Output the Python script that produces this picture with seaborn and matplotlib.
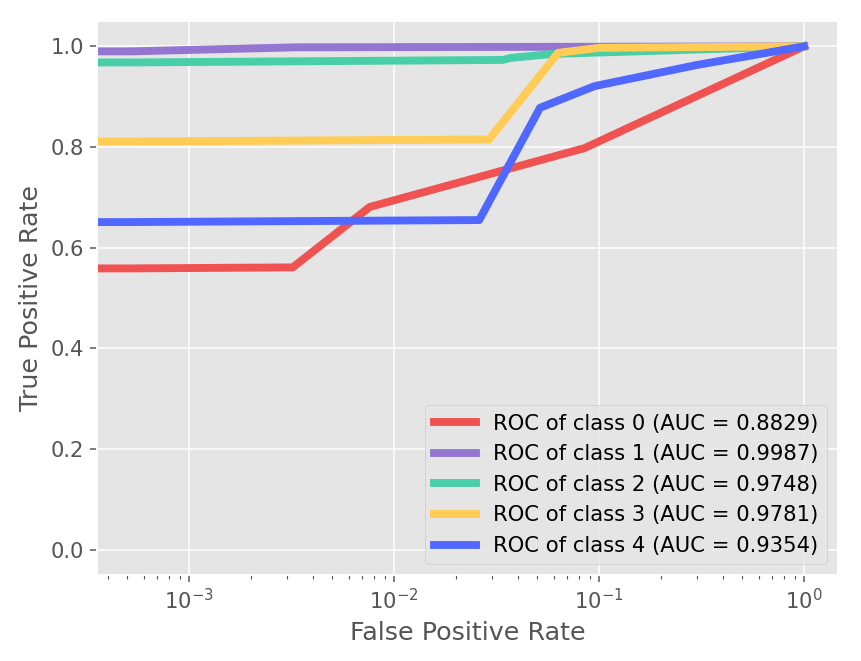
import numpy as np
import pandas as pd
import matplotlib
matplotlib.use('Agg')
import matplotlib.pyplot as plt
import seaborn as sns

plt.style.use('ggplot')
plt.rcParams['font.size'] = 11.3

# ROC points (fpr, tpr) per class
fpr_0 = [0.0, 5.2e-4, 3.2e-3, 7.6e-3, 0.085, 1.0]
tpr_0 = [0.558, 0.559, 0.561, 0.681, 0.798, 1.0]
fpr_1 = [0.0, 5.2e-4, 3.3e-3, 1.0]
tpr_1 = [0.989, 0.990, 0.998, 1.0]
fpr_2 = [0.0, 5.2e-4, 0.034, 0.037, 0.06, 1.0]
tpr_2 = [0.967, 0.968, 0.973, 0.977, 0.985, 1.0]
fpr_3 = [0.0, 5.2e-4, 0.029, 0.063, 0.1, 1.0]
tpr_3 = [0.810, 0.811, 0.815, 0.987, 0.997, 1.0]
fpr_4 = [0.0, 5.2e-4, 0.026, 0.0515, 0.095, 0.3, 1.0]
tpr_4 = [0.650, 0.651, 0.655, 0.878, 0.921, 0.963, 1.0]
auc = [0.8829, 0.9987, 0.9748, 0.9781, 0.9354]
colors = ['#F05252', '#9575D2', '#48CFA8', '#FFCC55', '#5068FF']

curves = [(fpr_0, tpr_0), (fpr_1, tpr_1), (fpr_2, tpr_2), (fpr_3, tpr_3), (fpr_4, tpr_4)]

fig = plt.figure(figsize=(861 / 135, 661 / 135), dpi=135)
ax = fig.add_axes([0.113, 0.13, 0.86, 0.838])

for i, (f, t) in enumerate(curves):
    df = pd.DataFrame({'fpr': f, 'tpr': t})
    sns.lineplot(data=df, x='fpr', y='tpr', sort=False, estimator=None,
                 color=colors[i], linewidth=4.2,
                 label='ROC of class {} (AUC = {:.4f})'.format(i, auc[i]), ax=ax)

ax.set_xscale('log')
ax.set_ylim(-0.05, 1.05)
ax.set_xlabel('False Positive Rate')
ax.set_ylabel('True Positive Rate')
ax.legend(loc='lower right')

fig.savefig('out.png', dpi=135)
